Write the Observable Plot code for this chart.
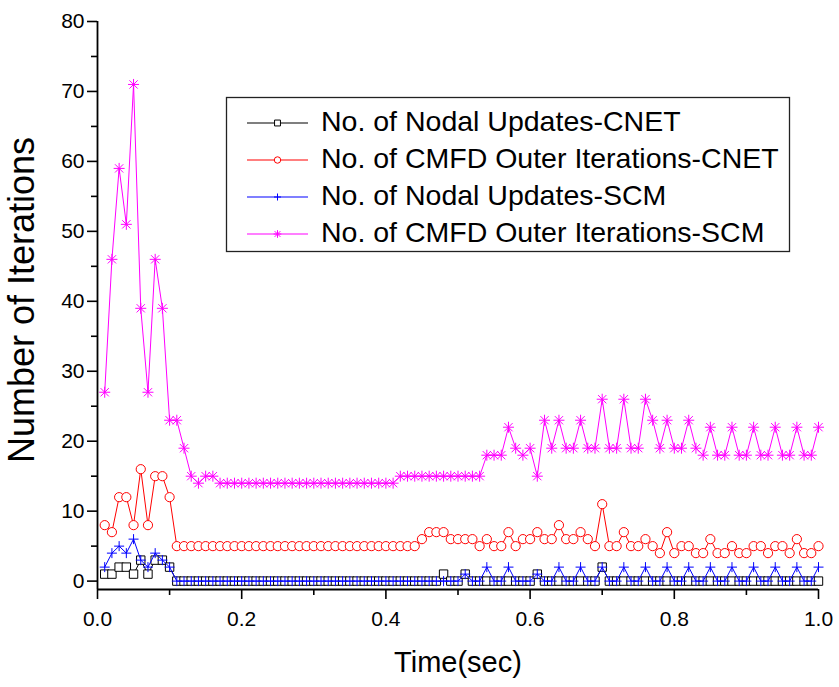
<!DOCTYPE html>
<html><head><meta charset="utf-8">
<script src="https://cdn.jsdelivr.net/npm/d3@7"></script>
<script src="https://cdn.jsdelivr.net/npm/@observablehq/plot@0.6"></script>
<style>
body{margin:0;background:#fff}
#chart{position:relative;width:839px;height:687px}
</style>
</head><body><div id="chart"></div>
<script>
const time = [0.01,0.02,0.03,0.04,0.05,0.06,0.07,0.08,0.09,0.10,
0.11,0.12,0.13,0.14,0.15,0.16,0.17,0.18,0.19,0.20,
0.21,0.22,0.23,0.24,0.25,0.26,0.27,0.28,0.29,0.30,
0.31,0.32,0.33,0.34,0.35,0.36,0.37,0.38,0.39,0.40,
0.41,0.42,0.43,0.44,0.45,0.46,0.47,0.48,0.49,0.50,
0.51,0.52,0.53,0.54,0.55,0.56,0.57,0.58,0.59,0.60,
0.61,0.62,0.63,0.64,0.65,0.66,0.67,0.68,0.69,0.70,
0.71,0.72,0.73,0.74,0.75,0.76,0.77,0.78,0.79,0.80,
0.81,0.82,0.83,0.84,0.85,0.86,0.87,0.88,0.89,0.90,
0.91,0.92,0.93,0.94,0.95,0.96,0.97,0.98,0.99,1.00];

const nodalCNET = [1,1,2,2,1,3,1,3,3,2,
0,0,0,0,0,0,0,0,0,0,
0,0,0,0,0,0,0,0,0,0,
0,0,0,0,0,0,0,0,0,0,
0,0,0,0,0,0,0,1,0,0,
1,0,0,0,0,0,0,0,0,0,
1,0,0,0,0,0,0,0,0,2,
0,0,0,0,0,0,0,0,0,0,
0,0,0,0,0,0,0,0,0,0,
0,0,0,0,0,0,0,0,0,0];

const cmfdCNET = [8,7,12,12,8,16,8,15,15,12,
5,5,5,5,5,5,5,5,5,5,
5,5,5,5,5,5,5,5,5,5,
5,5,5,5,5,5,5,5,5,5,
5,5,5,5,6,7,7,7,6,6,
6,6,5,6,5,5,7,5,6,6,
7,6,6,8,6,6,7,6,5,11,
5,5,7,5,5,6,5,4,7,4,
5,5,4,4,6,4,4,5,4,4,
5,5,4,5,5,4,6,4,4,5];

const nodalSCM = [2,4,5,4,6,3,2,4,3,2,
0,0,0,0,0,0,0,0,0,0,
0,0,0,0,0,0,0,0,0,0,
0,0,0,0,0,0,0,0,0,0,
0,0,0,0,0,0,0,0,0,0,
1,0,0,2,0,0,2,0,0,0,
1,0,0,2,0,0,2,0,0,2,
0,0,2,0,0,2,0,0,2,0,
0,2,0,0,2,0,0,2,0,0,
2,0,0,2,0,0,2,0,0,2];

const cmfdSCM = [27,46,59,51,71,39,27,46,39,23,
23,19,15,14,15,15,14,14,14,14,
14,14,14,14,14,14,14,14,14,14,
14,14,14,14,14,14,14,14,14,14,
14,15,15,15,15,15,15,15,15,15,
15,15,15,18,18,18,22,19,18,19,
15,23,19,23,19,19,23,19,19,26,
19,19,26,19,19,26,23,19,23,19,
19,23,19,18,22,18,18,22,18,18,
22,18,18,22,18,18,22,18,18,22];

const seriesNames = ["No. of Nodal Updates-CNET","No. of CMFD Outer Iterations-CNET","No. of Nodal Updates-SCM","No. of CMFD Outer Iterations-SCM"];
const seriesValues = [nodalCNET, cmfdCNET, nodalSCM, cmfdSCM];
const seriesColors = ["#000000","#ff0000","#0000ff","#ff00ff"];
const seriesSymbols = ["square","circle","plus","asterisk"];

const yMajor = [0,10,20,30,40,50,60,70,80];
const yMinor = [5,15,25,35,45,55,65,75];
const xMajor = [0,0.2,0.4,0.6,0.8,1.0];
const xMinor = [0.1,0.3,0.5,0.7,0.9];
const xTitle = "Time(sec)";
const yTitle = "Number of Iterations";

function makeSymbol(kind){
  return {draw(ctx, size){
    const r = Math.sqrt(size/Math.PI);
    if(kind==="square"){ ctx.moveTo(-r,-r); ctx.lineTo(r,-r); ctx.lineTo(r,r); ctx.lineTo(-r,r); ctx.closePath(); }
    else if(kind==="circle"){ ctx.moveTo(r,0); ctx.arc(0,0,r,0,2*Math.PI); }
    else if(kind==="plus"){ ctx.moveTo(-r,0); ctx.lineTo(r,0); ctx.moveTo(0,-r); ctx.lineTo(0,r); }
    else { const d=r*0.75; ctx.moveTo(-r,0); ctx.lineTo(r,0); ctx.moveTo(0,-r); ctx.lineTo(0,r); ctx.moveTo(-d,-d); ctx.lineTo(d,d); ctx.moveTo(-d,d); ctx.lineTo(d,-d); }
  }};
}
const symSizes = {square:4.2, circle:4.6, plus:5, asterisk:5.5};

const rows = seriesValues.map(vals => time.map((t,i)=>({t, v: vals[i]})));

const marks = [];
seriesValues.forEach((vals, s) => {
  marks.push(Plot.line(rows[s], {x:"t", y:"v", stroke: seriesColors[s], strokeWidth: 1}));
  const sym = seriesSymbols[s];
  marks.push(Plot.dot(rows[s], {x:"t", y:"v", symbol: makeSymbol(sym), r: symSizes[sym],
    stroke: seriesColors[s], strokeWidth: 1, fill: (sym==="square"||sym==="circle") ? "white" : "none"}));
});

const fontFam = "'Liberation Sans', Arial, Helvetica, sans-serif";

const chart = Plot.plot({
  width: 839, height: 687,
  marginLeft: 97, marginRight: 21, marginTop: 21, marginBottom: 98,
  style: {fontFamily: fontFam, color: "#000", background: "#fff", overflow: "visible"},
  x: {domain: [0, 1]},
  y: {domain: [-1.2, 80]},
  marks: [
    Plot.axisY(yMajor, {tickSize: 10, tickPadding: 3, fontSize: 21, strokeWidth: 1.6, label: null, tickFormat: d => String(d)}),
    Plot.axisY(yMinor, {tickSize: 6, strokeWidth: 1.6, label: null, tickFormat: () => ""}),
    Plot.axisX(xMajor, {tickSize: 10, tickPadding: 12, fontSize: 21, strokeWidth: 1.6, label: null, tickFormat: d => d.toFixed(1)}),
    Plot.axisX(xMinor, {tickSize: 6, strokeWidth: 1.6, label: null, tickFormat: () => ""}),
    Plot.ruleX([0], {strokeWidth: 1.8}),
    Plot.ruleY([-1.2], {strokeWidth: 1.8}),
    ...marks
  ]
});
document.getElementById("chart").appendChild(chart);

const svg = d3.select(chart);
// axis titles
svg.append("text").attr("x", 458).attr("y", 664).attr("text-anchor","middle").attr("dominant-baseline","middle")
  .attr("font-size", 29).attr("font-family", fontFam).attr("fill","#000").text(xTitle);
svg.append("text").attr("transform","translate(24,300) rotate(-90)").attr("text-anchor","middle").attr("dominant-baseline","middle")
  .attr("font-size", 36).attr("font-family", fontFam).attr("fill","#000").text(yTitle);

// legend
const lg = svg.append("g");
lg.append("rect").attr("x",226.5).attr("y",97.5).attr("width",563).attr("height",154).attr("fill","white").attr("stroke","#222").attr("stroke-width",1.3);
seriesNames.forEach((name, s) => {
  const cy = 123 + s*37;
  lg.append("line").attr("x1",247).attr("x2",308).attr("y1",cy).attr("y2",cy).attr("stroke",seriesColors[s]).attr("stroke-width",1.2);
  const sym = seriesSymbols[s];
  const r = symSizes[sym]*0.7;
  lg.append("path").attr("transform",`translate(277.5,${cy})`)
    .attr("d", d3.symbol(makeSymbol(sym), r*r*Math.PI)())
    .attr("stroke",seriesColors[s]).attr("fill",(sym==="square"||sym==="circle")?"white":"none").attr("stroke-width",1);
  lg.append("text").attr("x",321).attr("y",cy).attr("text-anchor","start").attr("dominant-baseline","middle").attr("font-size",28.5)
    .attr("font-family",fontFam).attr("fill","#000").text(name);
});
</script>
</body></html>
